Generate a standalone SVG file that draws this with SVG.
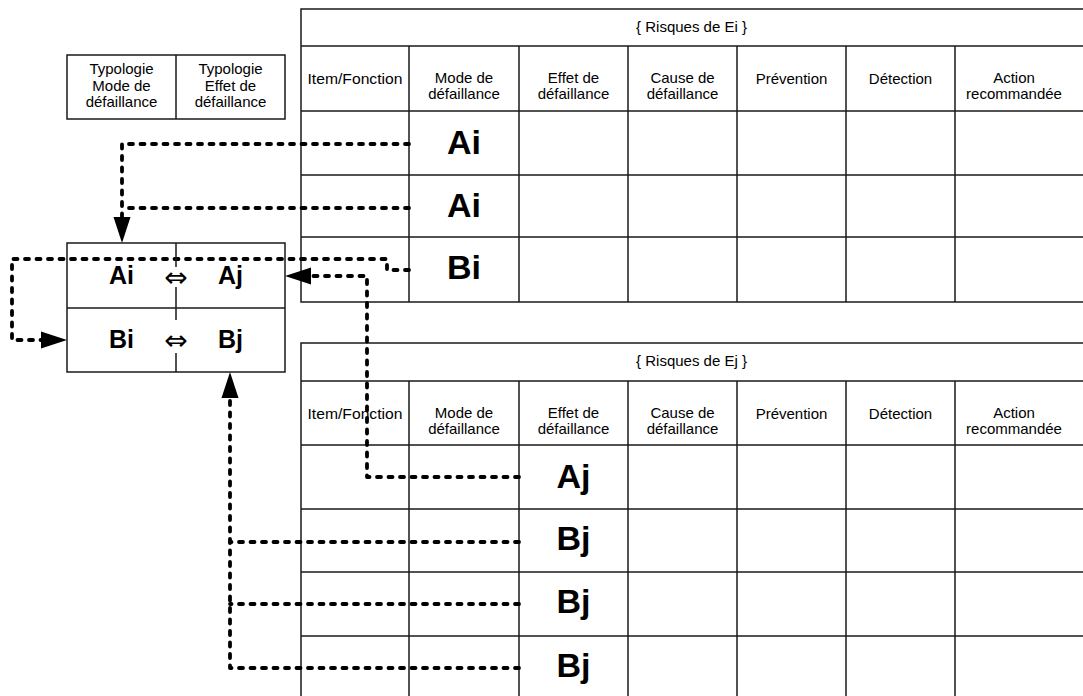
<svg xmlns="http://www.w3.org/2000/svg" width="1083" height="696" viewBox="0 0 1083 696">
<style>
.grid{fill:none;stroke:#1a1a1a;stroke-width:1.5}
.hd{font-family:"Liberation Sans",Arial,sans-serif;font-size:15px;fill:#000;text-anchor:middle}
.big{font-family:"Liberation Sans",Arial,sans-serif;font-size:34px;font-weight:bold;fill:#000;text-anchor:middle}
.mid{font-family:"Liberation Sans",Arial,sans-serif;font-size:25px;font-weight:bold;fill:#000;text-anchor:middle}
.sym{font-family:"DejaVu Sans",sans-serif;font-size:28px;fill:#000;text-anchor:middle}
.conn{fill:none;stroke:#000;stroke-width:3.8;stroke-dasharray:4 7.5;stroke-linecap:round;stroke-linejoin:round}
</style>
<defs>
<marker id="arr" markerUnits="userSpaceOnUse" markerWidth="27" markerHeight="18" refX="0" refY="8.5" orient="auto" overflow="visible">
<path d="M0,0 L26,8.5 L0,17 Z" fill="#000"/>
</marker>
</defs>
<rect x="0" y="0" width="1083" height="696" fill="#fff"/>

<g id="table-ei">
<rect class="grid" x="301" y="9" width="790" height="293"/>
<path class="grid" d="M301,46H1091M301,111H1091M301,175H1091M301,237H1091M409,46V302M519,46V302M628,46V302M737,46V302M846,46V302M955,46V302"/>
<text class="hd" x="691.5" y="32">{ Risques de Ei }</text>
<text class="hd" x="355" y="84" textLength="95" lengthAdjust="spacingAndGlyphs">Item/Fonction</text>
<text class="hd" x="464" y="83">Mode de</text><text class="hd" x="464" y="99">défaillance</text>
<text class="hd" x="573.5" y="83">Effet de</text><text class="hd" x="573.5" y="99">défaillance</text>
<text class="hd" x="682.5" y="83">Cause de</text><text class="hd" x="682.5" y="99">défaillance</text>
<text class="hd" x="791.5" y="84">Prévention</text>
<text class="hd" x="900.5" y="84">Détection</text>
<text class="hd" x="1014" y="83">Action</text><text class="hd" x="1014" y="99">recommandée</text>
<text class="big" x="464" y="154">Ai</text>
<text class="big" x="464" y="217">Ai</text>
<text class="big" x="464" y="279">Bi</text>
</g>

<g id="table-ej">
<rect class="grid" x="301" y="343" width="790" height="370"/>
<path class="grid" d="M301,381H1091M301,445H1091M301,509H1091M301,572H1091M301,636H1091M409,381V713M519,381V713M628,381V713M737,381V713M846,381V713M955,381V713"/>
<text class="hd" x="691.5" y="366">{ Risques de Ej }</text>
<text class="hd" x="355" y="419" textLength="95" lengthAdjust="spacingAndGlyphs">Item/Fonction</text>
<text class="hd" x="464" y="418">Mode de</text><text class="hd" x="464" y="434">défaillance</text>
<text class="hd" x="573.5" y="418">Effet de</text><text class="hd" x="573.5" y="434">défaillance</text>
<text class="hd" x="682.5" y="418">Cause de</text><text class="hd" x="682.5" y="434">défaillance</text>
<text class="hd" x="791.5" y="419">Prévention</text>
<text class="hd" x="900.5" y="419">Détection</text>
<text class="hd" x="1014" y="418">Action</text><text class="hd" x="1014" y="434">recommandée</text>
<text class="big" x="573.5" y="488">Aj</text>
<text class="big" x="573.5" y="550">Bj</text>
<text class="big" x="573.5" y="613">Bj</text>
<text class="big" x="573.5" y="677">Bj</text>
</g>

<g id="typologie">
<rect class="grid" x="67" y="55" width="218" height="64" fill="#fff"/>
<path class="grid" d="M176,55V119"/>
<text class="hd" x="121.5" y="74">Typologie</text>
<text class="hd" x="121.5" y="91">Mode de</text>
<text class="hd" x="121.5" y="107">défaillance</text>
<text class="hd" x="230.5" y="74">Typologie</text>
<text class="hd" x="230.5" y="91">Effet de</text>
<text class="hd" x="230.5" y="107">défaillance</text>
</g>

<g id="connectors">
<path class="conn" d="M409,144H122V217" marker-end="url(#arr)"/>
<path class="conn" d="M409,208H122"/>
<path class="conn" d="M409,270H387V259H12V340H41" marker-end="url(#arr)"/>
<path class="conn" d="M519,477H367V276H311" marker-end="url(#arr)"/>
<path class="conn" d="M519,668H230V398" marker-end="url(#arr)"/>
<path class="conn" d="M519,542H230"/>
<path class="conn" d="M519,604H230"/>
</g>

<g id="pairs">
<rect class="grid" x="67" y="243" width="218" height="129" fill="#fff"/>
<path class="grid" d="M67,308H285M176,243V267M176,287V320M176,353V372"/>
<text class="mid" x="121.5" y="284">Ai</text>
<text class="mid" x="230.5" y="284">Aj</text>
<text class="mid" x="121.5" y="348">Bi</text>
<text class="mid" x="230.5" y="348">Bj</text>
<text class="sym" x="176" y="287">⇔</text>
<text class="sym" x="176" y="350">⇔</text>
</g>
</svg>
